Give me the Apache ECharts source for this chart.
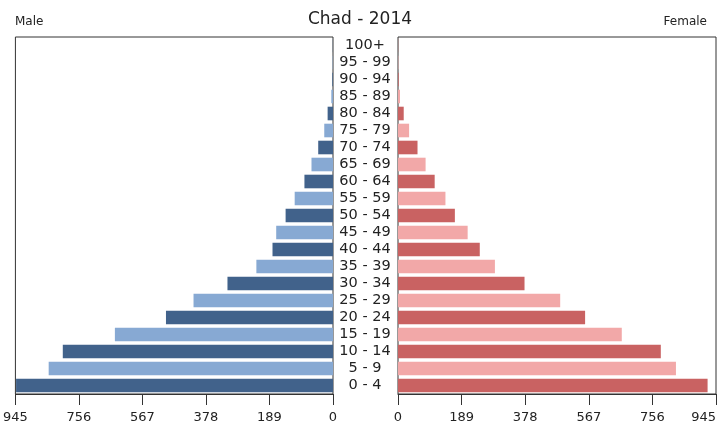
<!DOCTYPE html>
<html><head><meta charset="utf-8">
<script src="https://cdn.jsdelivr.net/npm/echarts@6/dist/echarts.min.js"></script>
<style>html,body{margin:0;padding:0;background:#fff}#c{width:720px;height:427px}</style>
</head><body><div id="c"></div>
<script>
var categories = ["0 - 4","5 - 9","10 - 14","15 - 19","20 - 24","25 - 29","30 - 34","35 - 39","40 - 44","45 - 49","50 - 54","55 - 59","60 - 64","65 - 69","70 - 74","75 - 79","80 - 84","85 - 89","90 - 94","95 - 99","100+"];
var male = [943,846,804,649,497,415,314,228,180,169,141,114,85,64,44,26,16,5,2,1,0.5];
var female = [920,826,781,665,556,482,376,288,243,207,169,141,109,82,58,33,17,6,2,1,0.5];
var ticks = [0,189,378,567,756,945];

var font = 'DejaVu Sans';
var chart = echarts.init(document.getElementById('c'));
function colorFn(dark, light){ return function(p){ return p.dataIndex % 2 === 0 ? dark : light; }; }
var xCommon = {
  type:'value', min:0, max:ticks[ticks.length-1], interval:ticks[1]-ticks[0],
  splitLine:{show:false},
  axisLine:{show:true,lineStyle:{color:'#333',width:1}},
  axisTick:{show:true,length:11,inside:false,lineStyle:{color:'#333'}},
  axisLabel:{fontFamily:font,fontSize:13,color:'#222',margin:17}
};
chart.setOption({
  animation:false,
  title:[
    {text:'Chad - 2014',left:'center',top:6,textStyle:{fontFamily:font,fontSize:17,fontWeight:'normal',color:'#222'}},
    {text:'Male',left:10,top:11,textStyle:{fontFamily:font,fontSize:12,fontWeight:'normal',color:'#222'}},
    {text:'Female',right:8,top:11,textStyle:{fontFamily:font,fontSize:12,fontWeight:'normal',color:'#222'}}
  ],
  grid:[
    {left:15,right:387,top:37,bottom:33,show:true,borderColor:'#333',borderWidth:1},
    {left:398,right:4,top:37,bottom:33,show:true,borderColor:'#333',borderWidth:1}
  ],
  xAxis:[
    Object.assign({},xCommon,{gridIndex:0,inverse:true}),
    Object.assign({},xCommon,{gridIndex:1,axisLabel:Object.assign({},xCommon.axisLabel,{alignMaxLabel:'right'})})
  ],
  yAxis:[
    {type:'category',gridIndex:0,data:categories,axisLabel:{show:false},axisTick:{show:false},axisLine:{show:false}},
    {type:'category',gridIndex:1,data:categories,axisTick:{show:false},axisLine:{show:false},
     axisLabel:{interval:0,fontFamily:font,fontSize:14.5,color:'#222',align:'center',margin:33,padding:[2,0,0,0]}}
  ],
  series:[
    {type:'bar',xAxisIndex:0,yAxisIndex:0,data:male,barCategoryGap:'20%',
     itemStyle:{color:colorFn('#41628b','#87a9d3')}},
    {type:'bar',xAxisIndex:1,yAxisIndex:1,data:female,barCategoryGap:'20%',
     itemStyle:{color:colorFn('#c96262','#f2a8a8')}}
  ]
});
</script></body></html>
